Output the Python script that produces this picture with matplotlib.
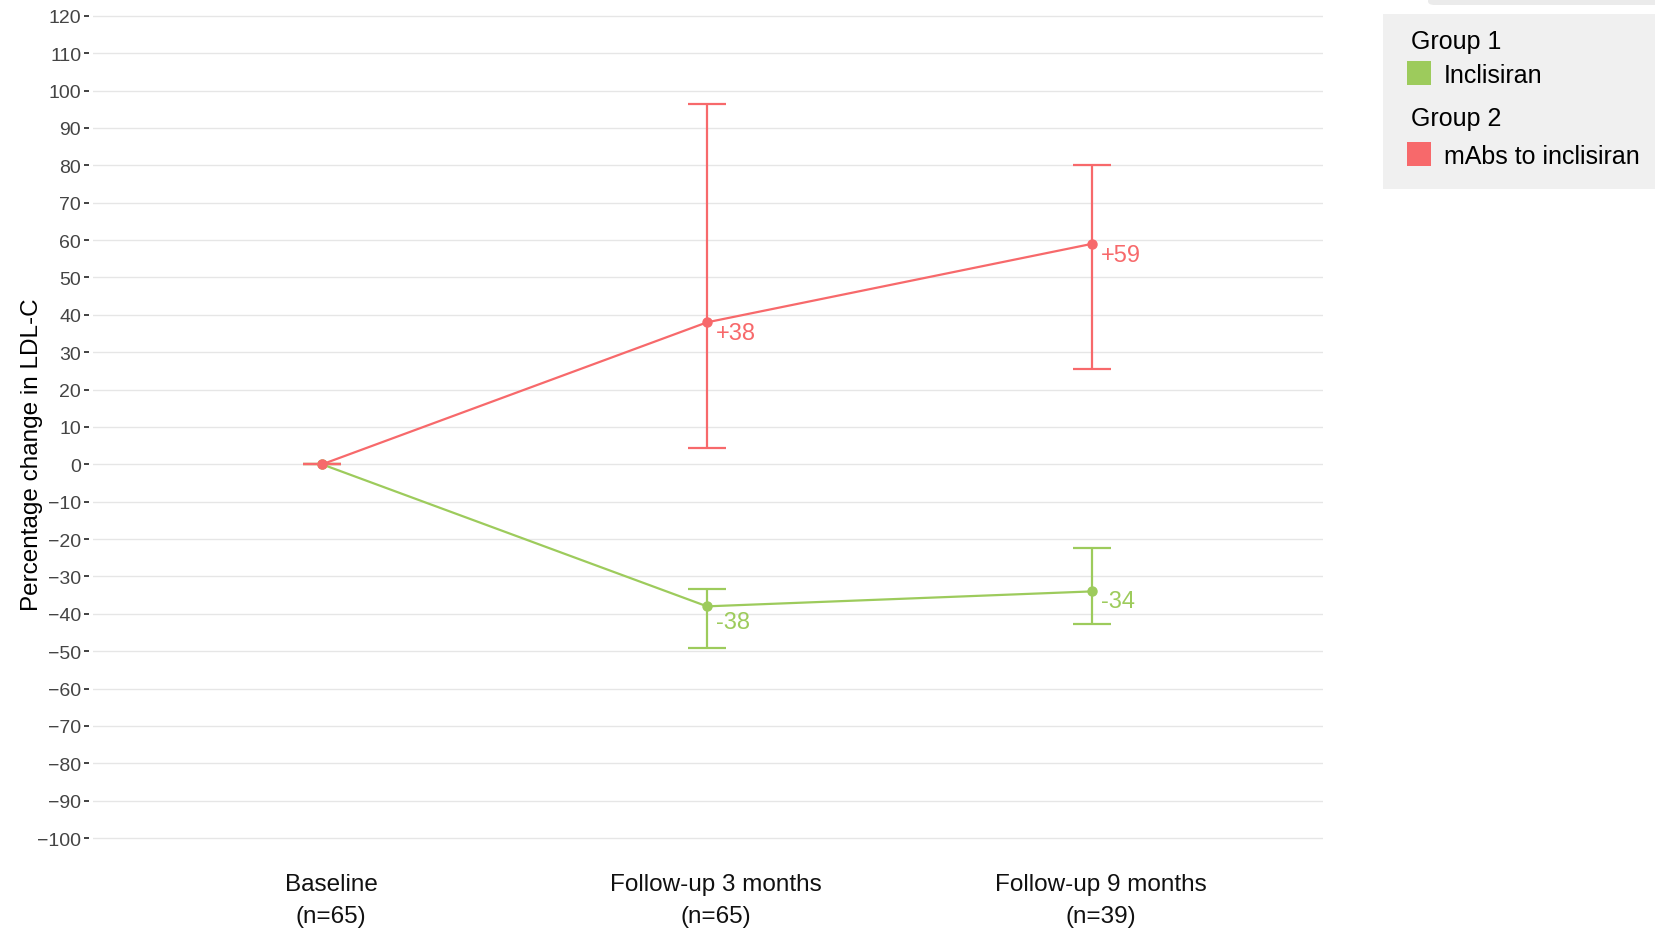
import matplotlib
matplotlib.use("Agg")
import matplotlib.pyplot as plt
from matplotlib.patches import Rectangle, FancyBboxPatch
from matplotlib.transforms import ScaledTranslation

plt.rcParams["font.family"] = ["Liberation Sans", "DejaVu Sans"]

# data
timepoints = ["Baseline\n(n=65)", "Follow-up 3 months\n(n=65)", "Follow-up 9 months\n(n=39)"]
inclisiran_mean = [0, -38, -34]
inclisiran_low = [0, -49.2, -42.7]
inclisiran_high = [0, -33.3, -22.3]
mabs_mean = [0, 38, 59]
mabs_low = [0, 4.3, 25.4]
mabs_high = [0, 96.5, 80.2]
inclisiran_labels = ["", "-38", "-34"]
mabs_labels = ["", "+38", "+59"]
yticks = list(range(-100, 121, 10))

green = "#9dcb5c"
red = "#f7696b"

fig = plt.figure(figsize=(16.55, 9.29), dpi=100)
ax = fig.add_axes([0.0562, 0.0767, 0.7432, 0.9132])

x = list(range(len(timepoints)))


def draw_series(mean, low, high, labels, color, dys):
    err = [[m - l for m, l in zip(mean, low)], [h - m for m, h in zip(mean, high)]]
    ax.errorbar(x, mean, yerr=err, color=color, lw=1.6, elinewidth=1.6,
                capsize=13.5, capthick=1.6, marker="o", ms=6.5, zorder=3)
    for xi, yi, lab, dy in zip(x, mean, labels, dys):
        if lab:
            ax.annotate(lab, (xi, yi), xytext=(6.5, dy), textcoords="offset points",
                        color=color, fontsize=17, ha="left", va="center")


draw_series(inclisiran_mean, inclisiran_low, inclisiran_high, inclisiran_labels, green,
            [0, -11, -7])
draw_series(mabs_mean, mabs_low, mabs_high, mabs_labels, red, [0, -8, -8])

ax.set_xlim(-0.595, 2.6)
ax.set_ylim(-105, 122)
ax.set_yticks(yticks)
ax.set_xticks(x)
ax.set_xticklabels(timepoints, fontsize=17.5, color="#111111", linespacing=1.55)
ax.yaxis.set_tick_params(labelsize=14, labelcolor="#444444", length=3.5,
                         width=1.3, color="#333333", pad=2)
ax.xaxis.set_tick_params(length=0, pad=12)
for lab in ax.get_xticklabels():
    lab.set_transform(lab.get_transform() + ScaledTranslation(0.09, 0, fig.dpi_scale_trans))

ax.grid(axis="y", color="#e6e6e6", lw=1)
ax.set_axisbelow(True)
for s in ["top", "right", "bottom"]:
    ax.spines[s].set_visible(False)
ax.spines["left"].set_position(("outward", 3))
ax.spines["left"].set_visible(False)

ax.set_ylabel("Percentage change in LDL-C", fontsize=17.5)
ax.yaxis.set_label_coords(-0.041, 0.4747)

# legend panel
fig.patches.append(Rectangle((1383 / 1655, 1 - 190 / 929), 1 - 1383 / 1655, 175 / 929,
                             transform=fig.transFigure, facecolor="#f0f0f0",
                             edgecolor="none"))
fig.patches.append(FancyBboxPatch((1428 / 1655, 1 - 6 / 929), 0.2, 0.02,
                                  boxstyle="round,pad=0,rounding_size=0.004",
                                  transform=fig.transFigure, facecolor="#ebebeb",
                                  edgecolor="none"))
legend_items = [("Group 1", "Inclisiran", green, 42, 74),
                ("Group 2", "mAbs to inclisiran", red, 119, 155)]
for title, name, color, ty, iy in legend_items:
    fig.text(1411 / 1655, 1 - ty / 929, title, fontsize=18, va="center", ha="left")
    fig.patches.append(Rectangle((1407 / 1655, 1 - (iy + 12) / 929), 24 / 1655, 24 / 929,
                                 transform=fig.transFigure, facecolor=color,
                                 edgecolor="none"))
    fig.text(1444 / 1655, 1 - (iy + 2) / 929, name, fontsize=18, va="center", ha="left")

fig.savefig("out.png", dpi=100)
